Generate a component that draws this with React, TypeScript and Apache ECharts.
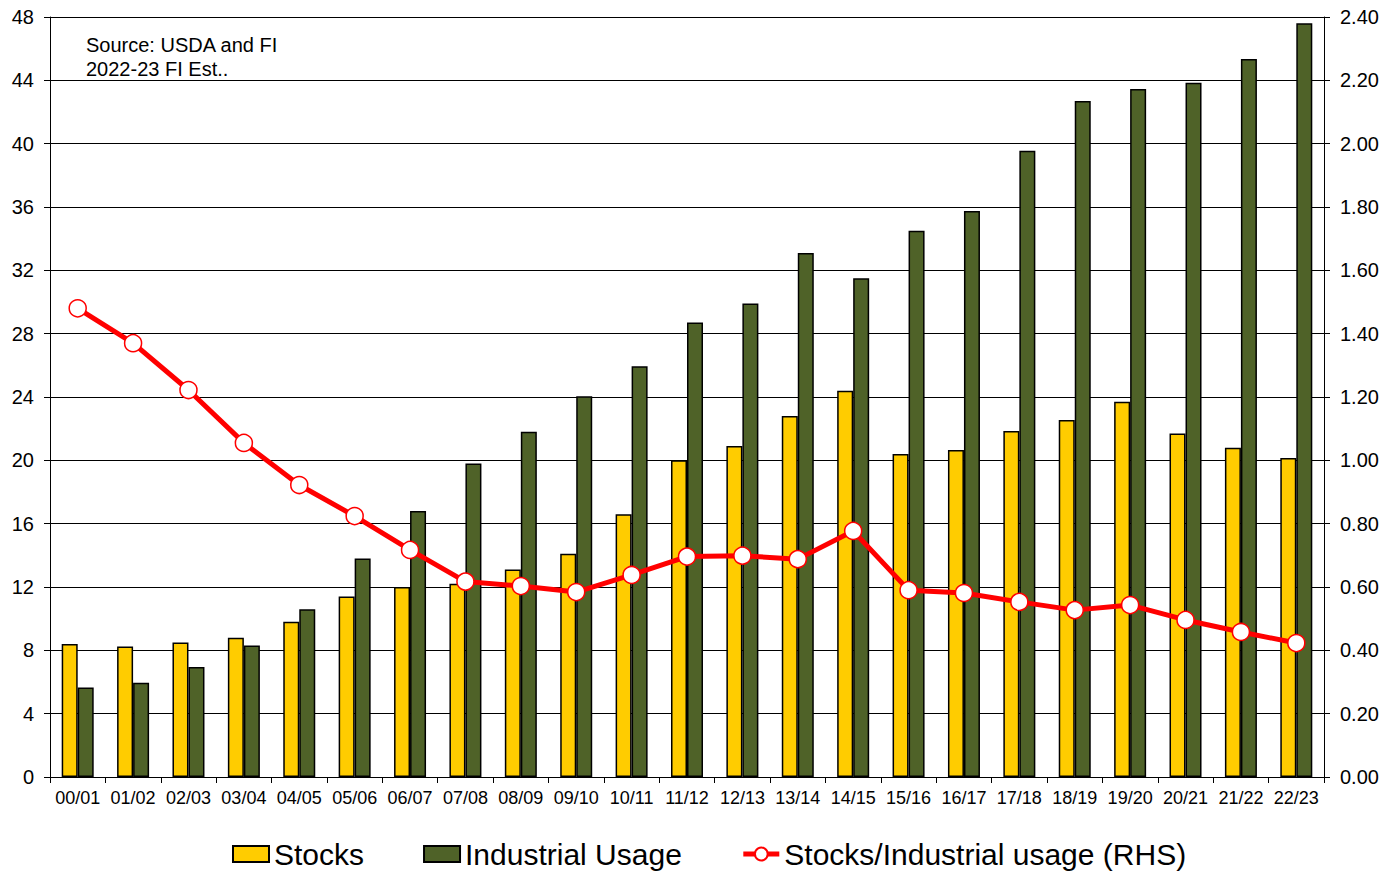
import React, { useEffect, useRef } from "react";
import * as echarts from "echarts";

const categories = ["00/01","01/02","02/03","03/04","04/05","05/06","06/07","07/08","08/09","09/10","10/11","11/12","12/13","13/14","14/15","15/16","16/17","17/18","18/19","19/20","20/21","21/22","22/23"];
const stocks = [8.4,8.25,8.5,8.8,9.8,11.4,12.0,12.2,13.1,14.1,16.6,20.0,20.9,22.8,24.4,20.4,20.65,21.85,22.55,23.7,21.7,20.8,20.15];
const industrialUsage = [5.65,5.95,6.95,8.3,10.6,13.8,16.8,19.8,21.8,24.05,25.95,28.7,29.9,33.1,31.5,34.5,35.75,39.55,42.7,43.45,43.85,45.35,47.6];
const ratio = [1.48,1.37,1.222,1.055,0.922,0.824,0.717,0.617,0.603,0.584,0.638,0.696,0.699,0.688,0.777,0.590,0.581,0.553,0.527,0.543,0.496,0.458,0.423];
const sourceLines = ["Source: USDA and FI", "2022-23 FI Est.."];

const FONT = "Liberation Sans, Arial, sans-serif";

export default function App() {
  const ref = useRef<HTMLDivElement>(null);
  useEffect(() => {
    document.body.style.margin = "0";
    const chart = echarts.init(ref.current!, null, { renderer: "svg" });
    chart.setOption({
      animation: false,
      backgroundColor: "#ffffff",
      textStyle: { fontFamily: FONT },
      grid: { left: 50, right: 73, top: 17, bottom: 96, containLabel: false },
      graphic: [
        {
          type: "text",
          left: 86,
          top: 33,
          style: { text: sourceLines.join("\n"), fontSize: 20, lineHeight: 24, fill: "#000", fontFamily: FONT },
        },
      ],
      legend: {
        left: 227,
        top: 834,
        itemWidth: 36,
        itemHeight: 16,
        itemGap: 59,
        textStyle: { fontSize: 30, color: "#000", fontFamily: FONT },
        data: [
          { name: "Stocks", icon: "rect" },
          { name: "Industrial Usage", icon: "rect" },
          { name: "Stocks/Industrial usage (RHS)", lineStyle: { width: 5 } },
        ],
      },
      xAxis: {
        type: "category",
        data: categories,
        boundaryGap: true,
        axisLine: { lineStyle: { color: "#000", width: 1 } },
        axisTick: { show: true, alignWithLabel: false, length: 6, lineStyle: { color: "#000" } },
        axisLabel: { color: "#000", fontSize: 18, margin: 12, interval: 0, fontFamily: FONT },
      },
      yAxis: [
        {
          type: "value",
          min: 0,
          max: 48,
          interval: 4,
          axisLine: { show: true, lineStyle: { color: "#000" } },
          axisTick: { show: true, length: 6, lineStyle: { color: "#000" } },
          axisLabel: { color: "#000", fontSize: 20, margin: 16, fontFamily: FONT },
          splitLine: { show: true, lineStyle: { color: "#000", width: 1 } },
        },
        {
          type: "value",
          min: 0,
          max: 2.4,
          interval: 0.2,
          position: "right",
          axisLine: { show: true, lineStyle: { color: "#000" } },
          axisTick: { show: true, length: 6, lineStyle: { color: "#000" } },
          axisLabel: { color: "#000", fontSize: 20, margin: 16, fontFamily: FONT, formatter: (v: number) => v.toFixed(2) },
          splitLine: { show: false },
        },
      ],
      series: [
        {
          name: "Stocks",
          type: "bar",
          data: stocks,
          barWidth: 16,
          barGap: "0%",
          itemStyle: { color: "#FFCC00", borderColor: "#000", borderWidth: 1.5 },
        },
        {
          name: "Industrial Usage",
          type: "bar",
          data: industrialUsage,
          barWidth: 16,
          barGap: "0%",
          itemStyle: { color: "#4F6228", borderColor: "#000", borderWidth: 1.5 },
        },
        {
          name: "Stocks/Industrial usage (RHS)",
          type: "line",
          yAxisIndex: 1,
          data: ratio,
          symbol: "circle",
          symbolSize: 17,
          lineStyle: { color: "#FF0000", width: 5 },
          itemStyle: { color: "#ffffff", borderColor: "#FF0000", borderWidth: 1.5 },
          z: 5,
        },
      ],
    });
    return () => chart.dispose();
  }, []);
  return <div ref={ref} style={{ width: 1397, height: 873 }} />;
}
